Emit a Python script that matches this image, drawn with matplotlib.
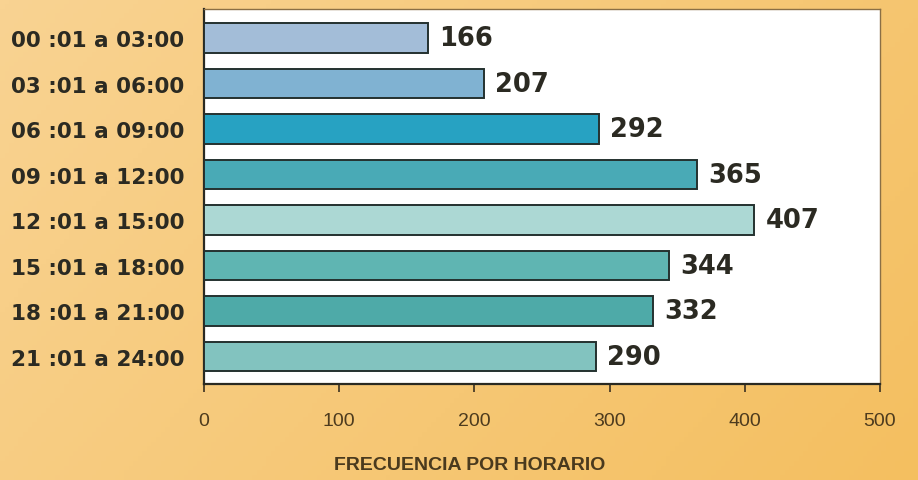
import matplotlib
matplotlib.use("Agg")
import matplotlib.pyplot as plt
import numpy as np

# data
horarios = [
    "00 :01 a 03:00",
    "03 :01 a 06:00",
    "06 :01 a 09:00",
    "09 :01 a 12:00",
    "12 :01 a 15:00",
    "15 :01 a 18:00",
    "18 :01 a 21:00",
    "21 :01 a 24:00",
]
frecuencia = [166, 207, 292, 365, 407, 344, 332, 290]
x_ticks = [0, 100, 200, 300, 400, 500]

bar_colors = ["#a3bdd8", "#80b2d2", "#27a2c2", "#49aab6",
              "#acd8d4", "#5fb5b2", "#4eaaa8", "#82c3bf"]
text_dark = "#2b2a22"
tick_brown = "#4d3b1e"

fig = plt.figure(figsize=(9.18, 4.81), dpi=100)
fig.patch.set_facecolor("#f6c877")

# warm paper-like gradient behind everything
bg = fig.add_axes([0, 0, 1, 1], zorder=-10)
gx = np.linspace(0, 1, 200)
gy = np.linspace(0, 1, 100)
GX, GY = np.meshgrid(gx, gy)
grad = 0.55 * GX + 0.25 * GY
bg.imshow(grad, cmap=matplotlib.colors.LinearSegmentedColormap.from_list(
    "paper", ["#f9d392", "#f4bf60"]), aspect="auto", extent=[0, 1, 0, 1],
    vmin=0, vmax=0.8)
bg.set_axis_off()

ax = fig.add_axes([0.2222, 0.1996, 0.7364, 0.7796])
ax.set_facecolor("white")

y = np.arange(len(horarios))
ax.barh(y, frecuencia, height=0.65, color=bar_colors,
        edgecolor="#24312f", linewidth=1.4, zorder=3)

for yi, v in zip(y, frecuencia):
    ax.annotate(str(v), xy=(v, yi), xytext=(8, 0), textcoords="offset points",
                ha="left", va="center", fontsize=18.5, fontweight="bold",
                color=text_dark, family="DejaVu Sans")

ax.set_xlim(0, 500)
ax.set_ylim(7.6, -0.64)
ax.set_xticks(x_ticks)
ax.set_xticklabels([str(t) for t in x_ticks], fontsize=14,
                   color=tick_brown, family="Liberation Sans")
ax.set_yticks(y)
ax.set_yticklabels(horarios, fontsize=15.5, fontweight="bold",
                   color=text_dark, family="DejaVu Sans")
ax.tick_params(axis="y", length=0, pad=14)
ax.tick_params(axis="x", direction="out", length=6, width=1.2,
               color="#3a3020", pad=14)

for side in ["left", "bottom"]:
    ax.spines[side].set_color("#2a2a22")
    ax.spines[side].set_linewidth(1.6)
for side in ["right", "top"]:
    ax.spines[side].set_color("#8a6f45")
    ax.spines[side].set_linewidth(1.0)

fig.text(470 / 918, 1 - 466 / 481, "FRECUENCIA POR HORARIO", ha="center",
         va="center", fontsize=14, fontweight="bold", color="#4a3a1e",
         family="Liberation Sans")

fig.savefig("out.png", dpi=100, facecolor=fig.get_facecolor())
